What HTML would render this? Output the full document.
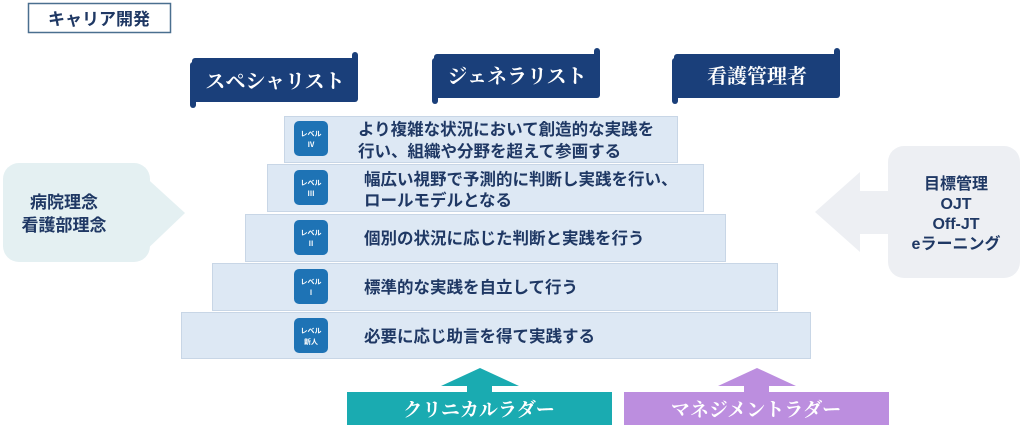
<!DOCTYPE html>
<html><head><meta charset="utf-8"><style>
html,body{margin:0;padding:0;background:#fff;}
body{width:1024px;height:429px;overflow:hidden;position:relative;font-family:"Liberation Sans","Noto Sans CJK JP",sans-serif;}
svg{position:absolute;left:0;top:0}
</style></head><body>
<svg width="1024" height="429" viewBox="0 0 1024 429" font-family="Liberation Sans, Noto Sans CJK JP, sans-serif">
<rect x="28.5" y="3.5" width="142" height="29" fill="#fff" stroke="#4a6f8f" stroke-width="1.5"/>
<text x="99" y="25" text-anchor="middle" font-size="17" font-weight="bold" fill="#1f3864">キャリア開発</text>

<g fill="#1a3f7a">
<rect x="192" y="58" width="166" height="44" rx="3"/>
<rect x="190" y="62" width="6" height="46" rx="3"/>
<rect x="352" y="52" width="6" height="14" rx="3"/>
<rect x="434" y="54" width="166" height="44" rx="3"/>
<rect x="432" y="58" width="6" height="46" rx="3"/>
<rect x="594" y="48" width="6" height="14" rx="3"/>
<rect x="674" y="54" width="166" height="44" rx="3"/>
<rect x="672" y="58" width="6" height="46" rx="3"/>
<rect x="834" y="48" width="6" height="14" rx="3"/>
</g>
<g font-family="Liberation Serif, Noto Serif CJK SC, serif" font-size="20" font-weight="bold" fill="#fff" text-anchor="middle">
<text x="275" y="88">スペシャリスト</text>
<text x="517" y="83">ジェネラリスト</text>
<text x="757" y="83">看護管理者</text>
</g>

<path d="M140 190 L140 172 L185 213 L140 256 L140 236 Z" fill="#e4f0f2"/>
<rect x="3" y="163" width="147" height="99" rx="16" fill="#e4f0f2"/>
<text x="64" y="208" text-anchor="middle" font-size="17" font-weight="bold" fill="#1f3864">病院理念</text>
<text x="64" y="231" text-anchor="middle" font-size="17" font-weight="bold" fill="#1f3864">看護部理念</text>

<path d="M895 191 L860 191 L860 172 L815 212 L860 252 L860 234 L895 234 Z" fill="#edeff3"/>
<rect x="888" y="146" width="132" height="132" rx="16" fill="#edeff3"/>
<g text-anchor="middle" font-size="16" font-weight="bold" fill="#1f3864">
<text x="956" y="189">目標管理</text>
<text x="956" y="209">OJT</text>
<text x="956" y="229">Off-JT</text>
<text x="956" y="249">eラーニング</text>
</g>

<g fill="#dde8f4" stroke="#c8d6e6" stroke-width="1">
<rect x="284.5" y="116.5" width="393" height="46"/>
<rect x="267.5" y="164.5" width="436" height="47"/>
<rect x="245.5" y="214.5" width="480" height="47"/>
<rect x="212.5" y="263.5" width="565" height="47"/>
<rect x="181.5" y="312.5" width="629" height="46"/>
</g>
<g fill="#1e73b5">
<rect x="294" y="121" width="34" height="35" rx="5"/>
<rect x="294" y="170" width="34" height="35" rx="5"/>
<rect x="294" y="220" width="34" height="35" rx="5"/>
<rect x="294" y="269" width="34" height="35" rx="5"/>
<rect x="294" y="318" width="34" height="35" rx="5"/>
</g>
<g fill="#fff" font-size="7" text-anchor="middle" font-weight="bold">
<text x="311" y="136">レベル</text><text x="311" y="147">Ⅳ</text>
<text x="311" y="185">レベル</text><text x="311" y="196">Ⅲ</text>
<text x="311" y="235">レベル</text><text x="311" y="246">Ⅱ</text>
<text x="311" y="284">レベル</text><text x="311" y="295">Ⅰ</text>
<text x="311" y="333">レベル</text><text x="311" y="344">新人</text>
</g>
<g font-size="16.5" font-weight="bold" fill="#1f3864">
<text x="358" y="135">より複雑な状況において創造的な実践を</text>
<text x="358" y="157">行い、組織や分野を超えて参画する</text>
<text x="364" y="185">幅広い視野で予測的に判断し実践を行い、</text>
<text x="364" y="206">ロールモデルとなる</text>
<text x="364" y="244">個別の状況に応じた判断と実践を行う</text>
<text x="364" y="293">標準的な実践を自立して行う</text>
<text x="364" y="342">必要に応じ助言を得て実践する</text>
</g>

<path d="M441 386 L480 368 L519 386 L492 386 L492 393 L467 393 L467 386 Z" fill="#1aabb1"/>
<rect x="347" y="392" width="265" height="33" fill="#1aabb1"/>
<text x="479" y="416" text-anchor="middle" font-family="Liberation Serif, Noto Serif CJK SC, serif" font-size="19" font-weight="bold" fill="#fff">クリニカルラダー</text>
<path d="M718 386 L757 368 L796 386 L769 386 L769 393 L744 393 L744 386 Z" fill="#bc8edf"/>
<rect x="624" y="392" width="265" height="33" fill="#bc8edf"/>
<text x="756" y="416" text-anchor="middle" font-family="Liberation Serif, Noto Serif CJK SC, serif" font-size="19" font-weight="bold" fill="#fff">マネジメントラダー</text>
</svg>
</body></html>
